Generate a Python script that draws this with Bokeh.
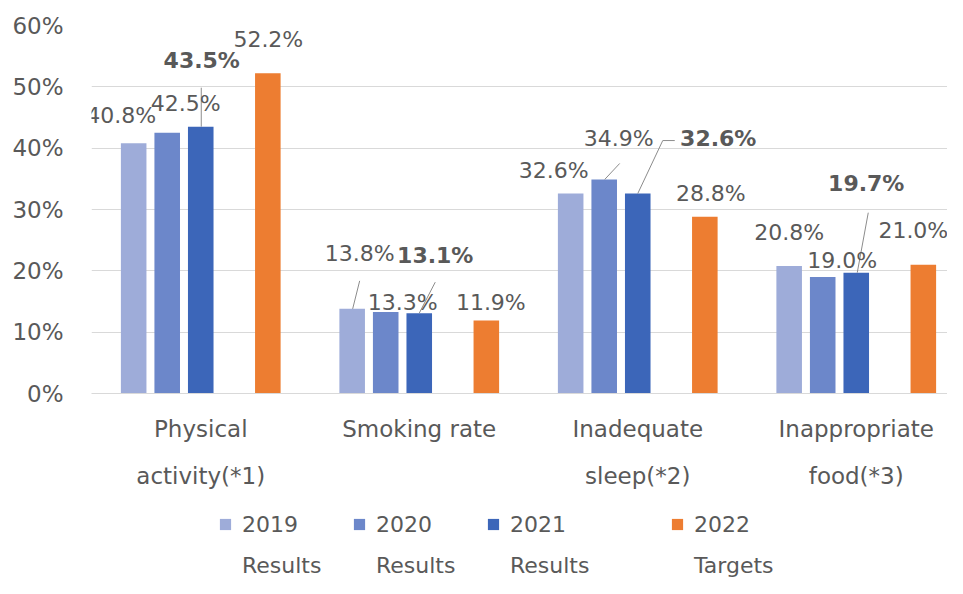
import numpy as np
from bokeh.plotting import figure
from bokeh.layouts import column
from bokeh.models import (ColumnDataSource, Range1d, FixedTicker, Legend, LegendItem,
                          PrintfTickFormatter)
from bokeh.core.properties import value
from bokeh.embed import file_html
from bokeh.resources import INLINE

# ---------------- data ----------------
categories = ["Physical\nactivity(*1)", "Smoking rate", "Inadequate\nsleep(*2)", "Inappropriate\nfood(*3)"]
series_years = ["2019", "2020", "2021", "2022"]
series_kinds = ["Results", "Results", "Results", "Targets"]
v2019 = [40.8, 13.8, 32.6, 20.8]
v2020 = [42.5, 13.3, 34.9, 19.0]
v2021 = [43.5, 13.1, 32.6, 19.7]
v2022 = [52.2, 11.9, 28.8, 21.0]
y_ticks = [0, 10, 20, 30, 40, 50, 60]
series_values = [v2019, v2020, v2021, v2022]

# ---------------- styles / layout ----------------
colors = ["#9eacd9", "#6c87ca", "#3c66b9", "#ed7d31"]
slot_offsets = [-0.307, -0.1535, 0.0, 0.307]
bar_width = 0.117
bold_series = [False, False, True, False]
TEXT = "#595959"
FONT = "DejaVu Sans"

W, H1, H2 = 947, 503, 75
B_LEFT, B_RIGHT, B_TOP, B_BOTTOM = 91, 0, 25, 110
FRAME_W = W - B_LEFT - B_RIGHT
FRAME_H = H1 - B_TOP - B_BOTTOM
PX_X = 218.5
X_END = FRAME_W / PX_X
PX_Y = FRAME_H / (y_ticks[-1] - y_ticks[0])

# data-label offsets (screen px, dy negative = up) per series, per category
label_dx = [[-12.5, 7.5, -17, 0], [18.5, 17, 14.5, 19.5], [1, 16, 80.5, 10], [0.5, 4.5, 6, -10]]
label_dy = [[-28, -55, -23, -33], [-29, -9.4, -41, -16.5], [-66, -58, -55, -89], [-34, -18, -23.4, -34]]
# leader lines: (series, category, list of px points relative to bar top)
leaders = [
    (2, 0, [(0.5, 0), (0.5, -39)]),
    (0, 1, [(0.5, 0), (7.5, -28)]),
    (2, 1, [(0, 0), (16, -31)]),
    (1, 2, [(0.5, 0), (15.5, -16)]),
    (2, 2, [(0, 0), (25, -53), (37, -53)]),
    (2, 3, [(1, 0), (12, -60)]),
]

p = figure(width=W, height=H1, output_backend="svg", toolbar_location=None,
           x_range=Range1d(0, X_END), y_range=Range1d(y_ticks[0], y_ticks[-1]),
           min_border_left=B_LEFT, min_border_right=B_RIGHT,
           min_border_top=B_TOP, min_border_bottom=B_BOTTOM)
p.outline_line_color = None
p.background_fill_color = "white"
p.border_fill_color = "white"

centers = np.arange(len(categories)) + 0.5
for s, vals in enumerate(series_values):
    xs = centers + slot_offsets[s]
    src = ColumnDataSource(dict(x=xs, top=vals))
    p.vbar(x="x", top="top", width=bar_width, source=src,
           fill_color=colors[s], line_color=None)

# leader lines
for s, c, pts in leaders:
    bx = centers[c] + slot_offsets[s]
    by = series_values[s][c]
    xs = [bx + dx / PX_X for dx, dy in pts]
    ys = [by - dy / PX_Y for dx, dy in pts]
    p.line(xs, ys, line_color="#8c8c8c", line_width=1)

# data labels
for s, vals in enumerate(series_values):
    xs = centers + slot_offsets[s] + np.array(label_dx[s]) / PX_X
    ys = np.array(vals) - np.array(label_dy[s]) / PX_Y
    txt = [f"{v:.1f}%" for v in vals]
    src = ColumnDataSource(dict(x=xs, y=ys, t=txt))
    p.text(x="x", y="y", text="t", source=src, text_align="center", text_baseline="middle",
           text_font=value(FONT), text_font_size="22px", text_color=TEXT,
           text_font_style="bold" if bold_series[s] else "normal")

# axes
p.xaxis.ticker = FixedTicker(ticks=list(centers))
p.xaxis.major_label_overrides = {float(c): lab for c, lab in zip(centers, categories)}
p.xaxis.major_label_text_font = FONT
p.xaxis.major_label_text_font_size = "23px"
p.xaxis.major_label_text_color = TEXT
p.xaxis.major_label_text_line_height = 1.82
p.xaxis.major_label_standoff = 22
p.xaxis.major_tick_line_color = None
p.xaxis.major_tick_out = 0
p.xaxis.minor_tick_line_color = None
p.xaxis.axis_line_color = "#d9d9d9"

p.yaxis.ticker = FixedTicker(ticks=y_ticks)
p.yaxis.formatter = PrintfTickFormatter(format="%d%%")
p.yaxis.major_label_text_font = FONT
p.yaxis.major_label_text_font_size = "23px"
p.yaxis.major_label_text_color = TEXT
p.yaxis.major_label_standoff = 28
p.yaxis.major_tick_line_color = None
p.yaxis.major_tick_out = 0
p.yaxis.minor_tick_line_color = None
p.yaxis.axis_line_color = None

p.xgrid.grid_line_color = None
p.ygrid.grid_line_color = "#d9d9d9"
p.ygrid.grid_line_width = 1

# ---------------- legend strip ----------------
lf = figure(width=W, height=H2, output_backend="svg", toolbar_location=None,
            x_range=Range1d(0, 1), y_range=Range1d(0, 1),
            x_axis_location=None, y_axis_location=None,
            min_border_left=0, min_border_right=0, min_border_top=0, min_border_bottom=0)
lf.outline_line_color = None
lf.xgrid.grid_line_color = None
lf.ygrid.grid_line_color = None
lf.border_fill_color = "white"

# legend swatch renderers (zero-height, so nothing is drawn in the strip itself)
leg_r = [lf.vbar(x=[0.5], top=[0], width=0.0, fill_color=colors[i], line_color=None)
         for i in range(len(series_years))]
blank = lf.vbar(x=[0.5], top=[0], width=0.0, fill_alpha=0, line_alpha=0)

def legend_for(idx, x):
    items = [LegendItem(label=series_years[i], renderers=[leg_r[i]]) for i in idx]
    items += [LegendItem(label=series_kinds[i], renderers=[blank]) for i in idx]
    return Legend(items=items, location=(x, 0), orientation="horizontal", ncols=len(idx),
                  glyph_width=14, glyph_height=14, label_standoff=10, spacing=15,
                  label_width=95, label_height=26,
                  padding=0, margin=0, border_line_color=None, background_fill_alpha=0,
                  label_text_font=FONT, label_text_font_size="22px", label_text_color=TEXT)

lf.add_layout(legend_for([0, 1, 2], 127), "center")
lf.add_layout(legend_for([3], 579), "center")

layout = column(p, lf, spacing=0)
open("out.html", "w").write(file_html(layout, INLINE))
